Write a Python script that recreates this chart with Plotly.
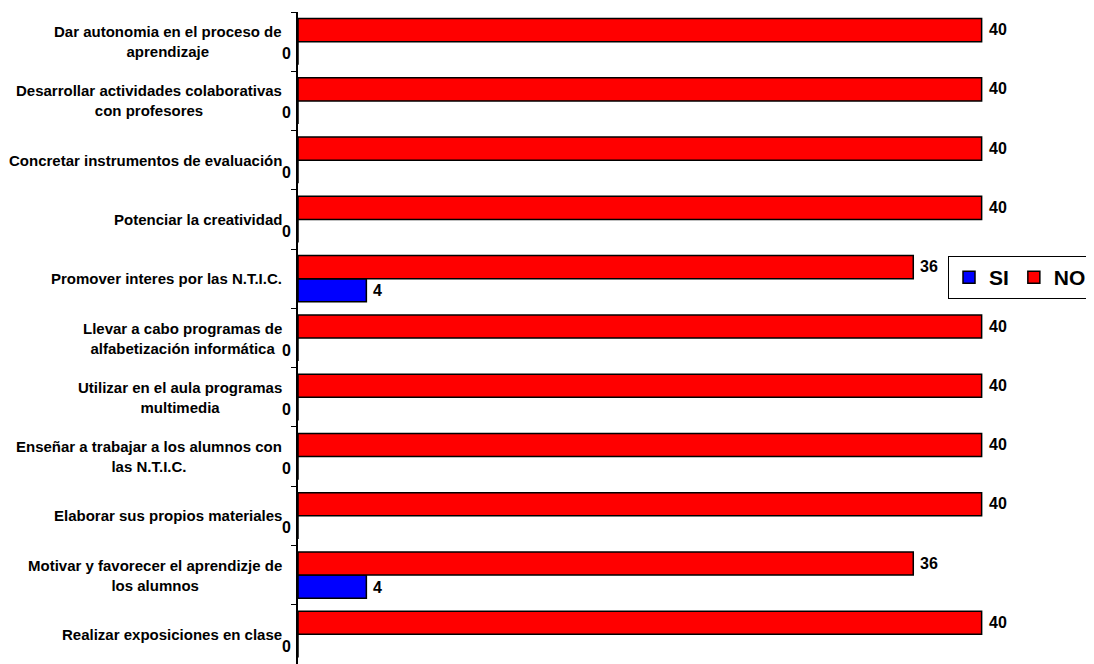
import plotly.graph_objects as go

categories = [
    "Dar autonomia en el proceso de<br>aprendizaje",
    "Desarrollar actividades colaborativas<br>con profesores",
    "Concretar instrumentos de evaluación",
    "Potenciar la creatividad",
    "Promover interes por las N.T.I.C.",
    "Llevar a cabo programas de<br>alfabetización informática",
    "Utilizar en el aula programas<br>multimedia",
    "Enseñar a trabajar a los alumnos con<br>las N.T.I.C.",
    "Elaborar sus propios materiales",
    "Motivar y favorecer el aprendizje de<br>los alumnos",
    "Realizar exposiciones en clase",
]
si_values = [0, 0, 0, 0, 4, 0, 0, 0, 0, 4, 0]
no_values = [40, 40, 40, 40, 36, 40, 40, 40, 40, 36, 40]

FONT = "Liberation Sans, Arial, sans-serif"
BLUE = "#0000FF"
RED = "#FF0000"

# the page body adds an 8px offset; compensate so the plot lands at the target pixels
OFF = 8
W, H = 1094 - OFF, 664 - OFF
ML, MR, MT, MB = 298 - OFF, 44, 12 - OFF, 0
PW, PH = W - ML - MR, H - MT - MB

fig = go.Figure()
fig.add_trace(go.Bar(
    name="SI", y=categories, x=si_values, orientation="h",
    marker=dict(color=BLUE, line=dict(color="black", width=1.5)),
))
fig.add_trace(go.Bar(
    name="NO", y=categories, x=no_values, orientation="h",
    marker=dict(color=RED, line=dict(color="black", width=1.5)),
))

annotations = []
for cat, si, no in zip(categories, si_values, no_values):
    annotations.append(dict(
        xref="paper", yref="y", x=0, y=cat, xshift=-14,
        xanchor="right", yanchor="middle", align="center",
        text=cat, showarrow=False,
        font=dict(family=FONT, size=15, color="black", weight="bold"),
    ))
    annotations.append(dict(
        xref="x", yref="y", x=no, y=cat, xshift=5, yshift=12,
        xanchor="left", yanchor="middle", text=str(no), showarrow=False,
        font=dict(family=FONT, size=16, color="black", weight="bold"),
    ))
    annotations.append(dict(
        xref="x", yref="y", x=si, y=cat,
        xshift=(5 if si > 0 else -5), yshift=-12,
        xanchor=("left" if si > 0 else "right"), yanchor="middle",
        text=str(si), showarrow=False,
        font=dict(family=FONT, size=16, color="black", weight="bold"),
    ))

fig.update_layout(
    width=W, height=H,
    margin=dict(l=ML, r=MR, t=MT, b=MB, autoexpand=False),
    paper_bgcolor="white", plot_bgcolor="white",
    barmode="group", bargap=0.22, bargroupgap=0,
    showlegend=True,
    legend=dict(
        orientation="h",
        x=(1092 - OFF - ML) / PW, xanchor="right", xref="paper",
        y=1 - (256 - OFF - MT) / PH, yanchor="top", yref="paper",
        bordercolor="black", borderwidth=1, bgcolor="white",
        font=dict(family=FONT, size=21, color="black", weight="bold"),
        itemwidth=30, tracegroupgap=0,
    ),
    xaxis=dict(range=[0, 44], visible=False, fixedrange=True, automargin=False),
    yaxis=dict(
        categoryorder="array", categoryarray=categories[::-1],
        showticklabels=False, showline=True, linecolor="black", linewidth=1.5,
        ticks="outside", tickson="boundaries", ticklen=5, tickcolor="black",
        showgrid=False, zeroline=False, automargin=False,
    ),
    annotations=annotations,
)

fig.write_html("out.html")
